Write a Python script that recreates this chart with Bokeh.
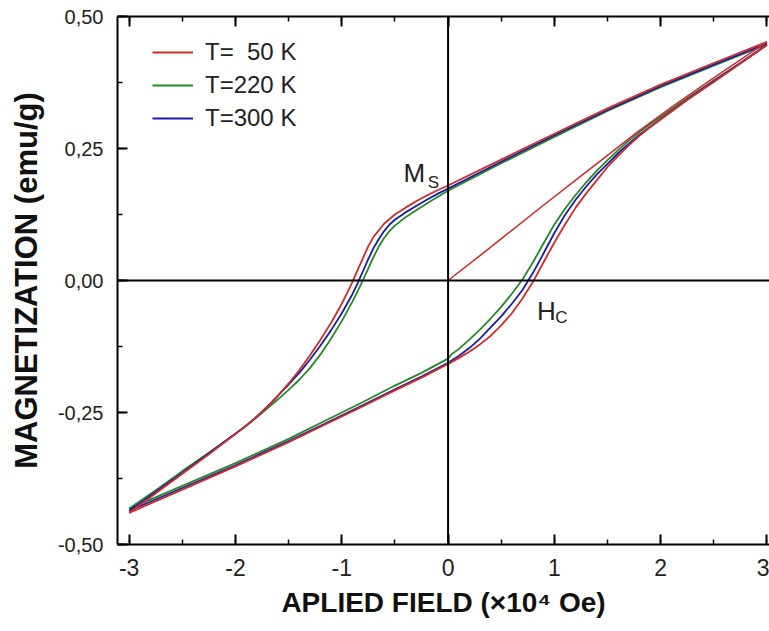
from bokeh.plotting import figure
from bokeh.models import (Range1d, LinearAxis, FixedTicker, CustomJSTickFormatter,
                          Span, Label, Legend, LegendItem)
from bokeh.embed import file_html
from bokeh.resources import INLINE

# ---- data (field in 10^4 Oe, magnetization in emu/g) ----
# T = 50 K : descending branch (+3 -> -3), ascending branch (-3 -> +3), virgin curve
desc_x_50 = [3.0, 2.5, 2.0, 1.5, 1.0, 0.5, 0.0, -0.1, -0.2, -0.3, -0.4, -0.5, -0.6, -0.7, -0.75, -0.8, -0.85, -0.9, -0.95, -1.0, -1.1, -1.2, -1.3, -1.4, -1.5, -1.6, -1.7, -1.8, -1.9, -2.0, -2.25, -2.5, -2.75, -3.0]
desc_m_50 = [0.452, 0.412, 0.371, 0.326, 0.278, 0.229, 0.180, 0.171, 0.161, 0.150, 0.138, 0.125, 0.108, 0.083, 0.065, 0.043, 0.020, -0.003, -0.024, -0.044, -0.080, -0.112, -0.142, -0.170, -0.195, -0.218, -0.239, -0.258, -0.275, -0.291, -0.329, -0.366, -0.403, -0.440]
asc_x_50 = [-3.0, -2.5, -2.0, -1.5, -1.2, -0.8, -0.5, -0.25, 0.0, 0.1, 0.2, 0.3, 0.4, 0.5, 0.6, 0.7, 0.8, 0.9, 1.0, 1.1, 1.2, 1.3, 1.4, 1.5, 1.6, 1.7, 1.8, 1.9, 2.0, 2.25, 2.5, 2.75, 3.0]
asc_m_50 = [-0.440, -0.396, -0.352, -0.306, -0.277, -0.238, -0.208, -0.184, -0.158, -0.147, -0.135, -0.121, -0.105, -0.085, -0.062, -0.034, -0.002, 0.035, 0.072, 0.106, 0.138, 0.165, 0.190, 0.215, 0.236, 0.256, 0.274, 0.290, 0.305, 0.342, 0.376, 0.411, 0.446]
virgin_x_50 = [0.0, 0.3, 0.6, 0.9, 1.2, 1.5, 1.78, 2.1, 2.4, 2.7, 3.0]
virgin_m_50 = [0.0, 0.047, 0.095, 0.143, 0.190, 0.237, 0.281, 0.328, 0.370, 0.411, 0.452]

# T = 220 K
desc_x_220 = [3.0, 2.5, 2.0, 1.5, 1.0, 0.5, 0.0, -0.1, -0.2, -0.3, -0.4, -0.5, -0.55, -0.6, -0.65, -0.7, -0.75, -0.8, -0.85, -0.9, -1.0, -1.1, -1.2, -1.3, -1.4, -1.5, -1.6, -1.7, -1.8, -1.9, -2.0, -2.25, -2.5, -2.75, -3.0]
desc_m_220 = [0.447, 0.407, 0.366, 0.321, 0.272, 0.222, 0.170, 0.158, 0.146, 0.133, 0.120, 0.104, 0.094, 0.081, 0.065, 0.045, 0.023, 0.001, -0.020, -0.040, -0.077, -0.110, -0.140, -0.166, -0.188, -0.207, -0.225, -0.242, -0.259, -0.275, -0.290, -0.326, -0.361, -0.397, -0.432]
asc_x_220 = [-3.0, -2.5, -2.0, -1.5, -1.2, -0.8, -0.5, -0.25, 0.0, 0.03, 0.1, 0.2, 0.3, 0.4, 0.5, 0.6, 0.7, 0.8, 0.9, 1.0, 1.1, 1.2, 1.3, 1.4, 1.5, 1.6, 1.7, 1.8, 1.9, 2.0, 2.25, 2.5, 2.75, 3.0]
asc_m_220 = [-0.432, -0.389, -0.346, -0.300, -0.270, -0.230, -0.199, -0.175, -0.148, -0.140, -0.130, -0.112, -0.093, -0.072, -0.050, -0.025, 0.002, 0.035, 0.071, 0.106, 0.136, 0.162, 0.186, 0.208, 0.228, 0.247, 0.265, 0.281, 0.296, 0.310, 0.345, 0.379, 0.412, 0.446]

# T = 300 K
desc_x_300 = [3.0, 2.5, 2.0, 1.5, 1.0, 0.5, 0.0, -0.1, -0.2, -0.3, -0.4, -0.5, -0.55, -0.6, -0.65, -0.7, -0.75, -0.8, -0.85, -0.9, -1.0, -1.1, -1.2, -1.3, -1.4, -1.5, -1.6, -1.7, -1.8, -1.9, -2.0, -2.25, -2.5, -2.75, -3.0]
desc_m_300 = [0.449, 0.409, 0.368, 0.323, 0.275, 0.225, 0.174, 0.164, 0.153, 0.141, 0.129, 0.115, 0.106, 0.094, 0.079, 0.062, 0.041, 0.018, -0.005, -0.026, -0.062, -0.094, -0.123, -0.150, -0.175, -0.197, -0.218, -0.239, -0.258, -0.275, -0.290, -0.327, -0.364, -0.400, -0.436]
asc_x_300 = [-3.0, -2.5, -2.0, -1.5, -1.2, -0.8, -0.5, -0.25, 0.0, 0.1, 0.2, 0.3, 0.4, 0.5, 0.6, 0.7, 0.8, 0.9, 1.0, 1.1, 1.2, 1.3, 1.4, 1.5, 1.6, 1.7, 1.8, 1.9, 2.0, 2.25, 2.5, 2.75, 3.0]
asc_m_300 = [-0.436, -0.393, -0.350, -0.304, -0.275, -0.236, -0.206, -0.182, -0.156, -0.143, -0.128, -0.110, -0.089, -0.068, -0.044, -0.018, 0.015, 0.052, 0.090, 0.124, 0.153, 0.178, 0.201, 0.221, 0.241, 0.259, 0.276, 0.291, 0.306, 0.343, 0.378, 0.412, 0.447]

labels = ["T=\u00a0\u00a050 K", "T=220 K", "T=300 K"]
colors = ["#d42a2a", "#238b23", "#1c1ca8"]

x_major = [-3, -2, -1, 0, 1, 2, 3]
x_minor = [-3, -2.5, -2, -1.5, -1, -0.5, 0, 0.5, 1, 1.5, 2, 2.5, 3]
y_major = [-0.5, -0.25, 0.0, 0.25, 0.5]
y_minor = [-0.5, -0.375, -0.25, -0.125, 0.0, 0.125, 0.25, 0.375, 0.5]

FONT = "Liberation Sans"

p = figure(width=769, height=631, output_backend="svg", toolbar_location=None,
           x_range=Range1d(-3.11, 3.024), y_range=Range1d(-0.5, 0.5),
           min_border_left=117, min_border_right=0, min_border_top=16, min_border_bottom=87)
p.grid.visible = False
p.outline_line_color = None
p.background_fill_color = "white"
p.border_fill_color = "white"

def style_axis(ax, ticks, minor):
    ax.ticker = FixedTicker(ticks=ticks, minor_ticks=minor)
    ax.axis_line_width = 2
    ax.axis_line_color = "black"
    ax.major_tick_in = 10
    ax.major_tick_out = 0
    ax.minor_tick_in = 5
    ax.minor_tick_out = 0
    ax.major_tick_line_width = 2
    ax.minor_tick_line_width = 1.5
    ax.major_label_text_font = FONT
    ax.major_label_text_color = "#222222"
    ax.axis_label_text_font = FONT
    ax.axis_label_text_font_style = "bold"
    ax.axis_label_text_color = "#111111"

xa = p.xaxis[0]
style_axis(xa, x_major, x_minor)
xa.formatter = CustomJSTickFormatter(code="return tick.toFixed(0)")
xa.major_label_text_font_size = "23px"
xa.major_label_standoff = 14
xa.axis_label = "APLIED FIELD (\u00d710\u2074 Oe)"
xa.axis_label_text_font_size = "28px"
xa.axis_label_standoff = 8

ya = p.yaxis[0]
style_axis(ya, y_major, y_minor)
ya.formatter = CustomJSTickFormatter(code="return tick.toFixed(2).replace('.', ',')")
ya.major_label_text_font_size = "20px"
ya.major_label_standoff = 14
ya.axis_label = "MAGNETIZATION (emu/g)"
ya.axis_label_text_font_size = "31px"
ya.axis_label_standoff = 11

top = LinearAxis()
style_axis(top, x_major, x_minor)
top.formatter = CustomJSTickFormatter(code="return ''")
top.major_label_standoff = 0
p.add_layout(top, "above")

# cross lines at origin
p.add_layout(Span(location=0, dimension="height", line_color="black", line_width=2))
p.add_layout(Span(location=0, dimension="width", line_color="black", line_width=2))

series = [
    (desc_x_220, desc_m_220, asc_x_220, asc_m_220, colors[1]),
    (desc_x_300, desc_m_300, asc_x_300, asc_m_300, colors[2]),
    (desc_x_50, desc_m_50, asc_x_50, asc_m_50, colors[0]),
]
rend = {}
for dx, dm, ax_, am, c in series:
    r1 = p.line(dx, dm, line_color=c, line_width=1.8)
    p.line(ax_, am, line_color=c, line_width=1.8)
    rend[c] = r1
p.line(virgin_x_50, virgin_m_50, line_color=colors[0], line_width=1.5)

legend = Legend(items=[LegendItem(label=labels[i], renderers=[rend[colors[i]]]) for i in range(3)],
                location=(35, 412), padding=0, spacing=5, glyph_width=41, glyph_height=24,
                label_height=24, label_standoff=12, label_text_font=FONT,
                label_text_font_size="24px", label_text_color="#222222",
                border_line_color=None, background_fill_alpha=0)
p.add_layout(legend)

# annotations
p.add_layout(Label(x=-0.42, y=0.203, text="M", text_font=FONT, text_font_size="26px",
                   text_color="#222222", text_baseline="alphabetic"))
p.add_layout(Label(x=-0.19, y=0.186, text="S", text_font=FONT, text_font_size="17px",
                   text_color="#222222", text_baseline="alphabetic"))
p.add_layout(Label(x=0.837, y=-0.057, text="H", text_font=FONT, text_font_size="26px",
                   text_color="#222222", text_baseline="alphabetic"))
p.add_layout(Label(x=1.009, y=-0.0695, text="C", text_font=FONT, text_font_size="17px",
                   text_color="#222222", text_baseline="alphabetic"))

open("out.html", "w").write(file_html(p, INLINE))
